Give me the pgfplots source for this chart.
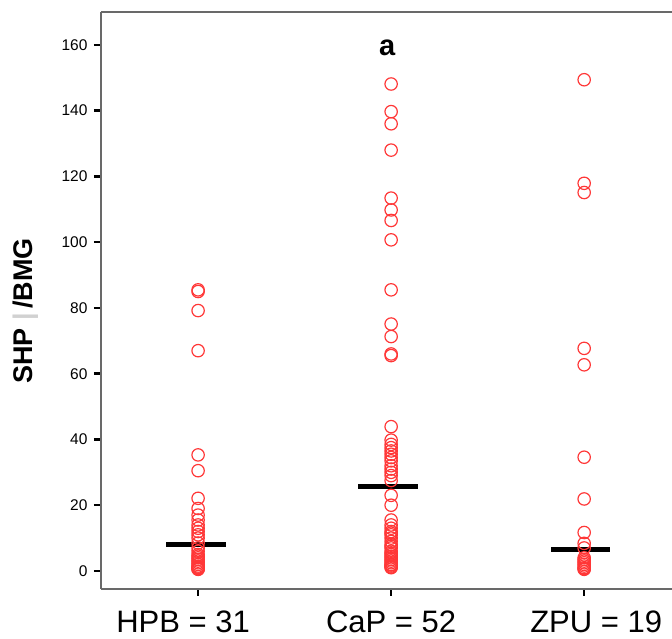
\documentclass[border=0pt]{standalone}
\usepackage{pgfplots}
\pgfplotsset{compat=1.18}
\usepackage{fontspec}
\setmainfont{Liberation Sans}
\definecolor{ptred}{RGB}{255,55,55}
\definecolor{axgray}{RGB}{105,105,105}
\begin{document}
\begin{tikzpicture}
\begin{axis}[
  scale only axis,
  width=571pt, height=577pt,
  xmin=-0.503, xmax=2.455,
  ymin=-5.48, ymax=170,
  axis x line*=bottom, axis y line*=left,
  axis line style={-, axgray, line width=1.5pt},
  clip=false,
  xtick={0,1,2},
  xticklabels={{\kern-30pt HPB = 31}, {CaP = 52}, {ZPU = 19\kern-24pt}},
  ytick={0,20,40,60,80,100,120,140,160},
  tick align=outside,
  major tick length=7pt,
  tick style={black, line width=2.5pt},
  /pgf/number format/assume math mode=true,
  yticklabel style={font=\fontsize{15.5}{18}\selectfont, xshift=-3pt},
  xticklabel style={font=\fontsize{31}{36}\selectfont, inner sep=0pt, yshift=-15pt, anchor=north},
  every axis y label/.style={at={(axis description cs:-0.131,0.482)}, rotate=90, anchor=center},
  ylabel={\fontsize{27}{32}\selectfont\bfseries SHP \textcolor{black!18}{|}\,/BMG},
]
\draw[axgray, line width=1.5pt] (rel axis cs:0,1) -- (rel axis cs:1,1);
\coordinate (ll) at (rel axis cs:0,0);
\coordinate (ur) at (rel axis cs:1,1);
\addplot[only marks, mark=o, mark size=6.2pt, mark options={ptred, line width=1.2pt}] coordinates {
(0,85) (0,85.5) (0,79.2) (0,67) (0,35.3) (0,30.5) (0,22.1) (0,19) (0,17) (0,15.5)
(0,14) (0,13) (0,12) (0,11) (0,10) (0,8.5) (0,7) (0,6) (0,5) (0,4.5)
(0,4) (0,3.5) (0,3) (0,2.5) (0,2) (0,1.5) (0,1.2) (0,1) (0,0.8) (0,0.6) (0,0.5)
};
\addplot[only marks, mark=o, mark size=6.2pt, mark options={ptred, line width=1.2pt}] coordinates {
(1,148.1) (1,139.7) (1,136) (1,128) (1,113.4) (1,109.8) (1,106.6) (1,100.7) (1,85.5) (1,75.1)
(1,71.3) (1,66) (1,65.5) (1,43.9) (1,39.8) (1,38.5) (1,37.5) (1,36.5) (1,35.5) (1,34.5)
(1,33.5) (1,32) (1,31) (1,30) (1,29) (1,27.5) (1,23) (1,20) (1,15.5) (1,14)
(1,13) (1,12) (1,11.5) (1,11) (1,10) (1,9) (1,8) (1,7.5) (1,7) (1,6)
(1,5.5) (1,5) (1,4.5) (1,4) (1,3.5) (1,3) (1,2.5) (1,2) (1,1.8) (1,1.5)
(1,1.2) (1,1)
};
\addplot[only marks, mark=o, mark size=6.2pt, mark options={ptred, line width=1.2pt}] coordinates {
(2,149.4) (2,117.9) (2,115.1) (2,67.7) (2,62.7) (2,34.6) (2,21.9) (2,11.7) (2,8.4) (2,7)
(2,4) (2,3.5) (2,3) (2,2.5) (2,2) (2,1.5) (2,1) (2,0.7) (2,0.5)
};
\addplot[black, line width=5pt, no marks] coordinates {(-0.166,8.2) (0.145,8.2)};
\addplot[black, line width=5pt, no marks] coordinates {(0.829,25.6) (1.14,25.6)};
\addplot[black, line width=5pt, no marks] coordinates {(1.829,6.6) (2.135,6.6)};
\node[font=\fontsize{29}{34}\selectfont\bfseries, anchor=base] at (axis cs:0.98,156.7) {a};
\end{axis}
\pgfresetboundingbox
\path ([shift={(-101pt,-50pt)}]ll) rectangle ([shift={(0pt,12pt)}]ur);
\end{tikzpicture}
\end{document}
